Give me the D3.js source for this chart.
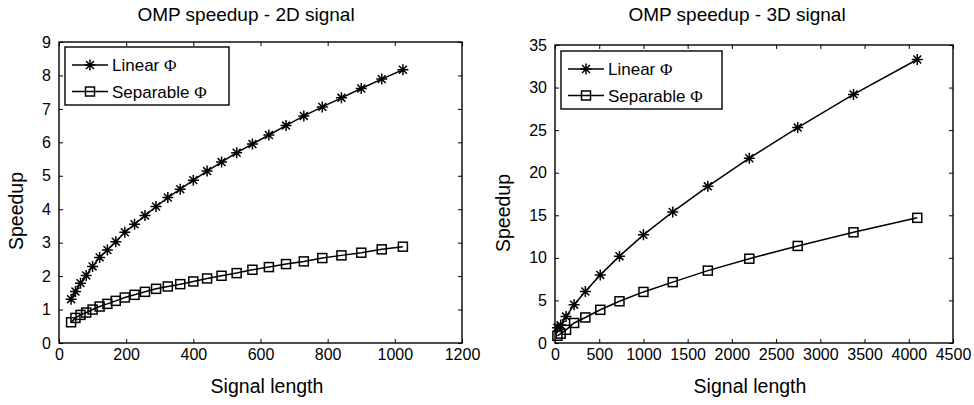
<!DOCTYPE html>
<html>
<head>
<meta charset="utf-8">
<script src="https://cdn.jsdelivr.net/npm/d3@7"></script>
<style>
  body { margin: 0; background: #fff; }
  svg { display: block; font-family: "Liberation Sans", Arial, sans-serif; }
  .tick line { stroke: #000; stroke-width: 1; }
  .tick text { font-size: 16px; fill: #000; }
  .frame { fill: none; stroke: #000; stroke-width: 1.4; }
  .curve { fill: none; stroke: #000; stroke-width: 1.5; }
  .mark { fill: none; stroke: #000; stroke-width: 1.5; }
</style>
</head>
<body>
<svg id="chart" width="974" height="405"></svg>
<script>
// series names
const seriesNames = ['Linear', 'Separable']

// 2D signal: lengths n^2, n = 6..32
const len2D = [36, 49, 64, 81, 100, 121, 144, 169, 196, 225, 256, 289, 324, 361, 400,
  441, 484, 529, 576, 625, 676, 729, 784, 841, 900, 961, 1024]
const linear2D = [1.31, 1.54, 1.79, 2.02, 2.29, 2.56, 2.78, 3.03, 3.31, 3.55, 3.81, 4.08, 4.35, 4.60, 4.87,
  5.14, 5.41, 5.69, 5.95, 6.22, 6.50, 6.79, 7.06, 7.33, 7.61, 7.89, 8.17]
const separable2D = [0.62, 0.75, 0.84, 0.91, 1.00, 1.09, 1.17, 1.26, 1.36, 1.44, 1.53, 1.62, 1.69, 1.76, 1.84,
  1.93, 2.01, 2.09, 2.19, 2.27, 2.36, 2.44, 2.54, 2.62, 2.70, 2.80, 2.88]

// 3D signal: lengths n^3, n = 3..16
const len3D = [27, 64, 125, 216, 343, 512, 729, 1000, 1331, 1728, 2197, 2744, 3375, 4096]
const linear3D = [1.8, 2.1, 3.1, 4.5, 6.05, 8.0, 10.2, 12.7, 15.4, 18.4, 21.7, 25.3, 29.2, 33.3]
const separable3D = [0.85, 1.1, 1.55, 2.35, 3.0, 3.9, 4.9, 6.0, 7.15, 8.5, 9.9, 11.4, 13.0, 14.7]

// tick labels
const xTicks2D = [0, 200, 400, 600, 800, 1000, 1200]
const yTicks2D = [0, 1, 2, 3, 4, 5, 6, 7, 8, 9]
const xTicks3D = [0, 500, 1000, 1500, 2000, 2500, 3000, 3500, 4000, 4500]
const yTicks3D = [0, 5, 10, 15, 20, 25, 30, 35]

const svg = d3.select('#chart')

// marker painters
const drawStar = (g, r) => {
  const d = r * 0.72
  g.append('path').attr('class', 'mark')
    .attr('d', `M${-r},0H${r}M0,${-r}V${r}M${-d},${-d}L${d},${d}M${-d},${d}L${d},${-d}`)
}
const drawSquare = (g, r) => {
  g.append('rect').attr('class', 'mark')
    .attr('x', -r).attr('y', -r).attr('width', 2 * r).attr('height', 2 * r)
}
const painters = [g => drawStar(g, 5.5), g => drawSquare(g, 4.5)]

const makePanel = function(opts) {
  const { left, right, top, bottom, xDomain, yDomain, xTicks, yTicks, xs, series, title, legend } = opts

  const x = d3.scaleLinear().domain(xDomain).range([left, right])
  const y = d3.scaleLinear().domain(yDomain).range([bottom, top])
  const fmt = d3.format('d')

  const g = svg.append('g')

  // axes: inward ticks on all four sides
  g.append('g').attr('transform', `translate(0,${bottom})`)
    .call(d3.axisBottom(x).tickValues(xTicks).tickFormat(fmt).tickSize(-4).tickPadding(6).tickSizeOuter(0))
  g.append('g').attr('transform', `translate(0,${top})`)
    .call(d3.axisTop(x).tickValues(xTicks).tickSize(-4).tickFormat('').tickSizeOuter(0))
  g.append('g').attr('transform', `translate(${left},0)`)
    .call(d3.axisLeft(y).tickValues(yTicks).tickFormat(fmt).tickSize(-4).tickPadding(8).tickSizeOuter(0))
  g.append('g').attr('transform', `translate(${right},0)`)
    .call(d3.axisRight(y).tickValues(yTicks).tickSize(-4).tickFormat('').tickSizeOuter(0))
  g.selectAll('.domain').remove()
  g.selectAll('.tick text').attr('font-family', null).attr('font-size', null)

  g.append('rect').attr('class', 'frame')
    .attr('x', left).attr('y', top)
    .attr('width', right - left).attr('height', bottom - top)

  // curves + markers
  series.forEach((vals, i) => {
    const pts = xs.map((v, j) => [v, vals[j]])
    g.append('path').attr('class', 'curve')
      .attr('d', d3.line().x(d => x(d[0])).y(d => y(d[1]))(pts))
    g.selectAll(null).data(pts).join('g')
      .attr('transform', d => `translate(${x(d[0])},${y(d[1])})`)
      .each(function() { painters[i](d3.select(this)) })
  })

  // titles
  g.append('text').attr('x', title.x).attr('y', 21)
    .attr('text-anchor', 'middle').attr('font-size', 19).text(title.text)
  g.append('text').attr('x', title.xl).attr('y', 393)
    .attr('text-anchor', 'middle').attr('font-size', 19.5).text('Signal length')
  g.append('text').attr('transform', `translate(${title.yl},${title.ylc}) rotate(-90)`)
    .attr('text-anchor', 'middle').attr('font-size', 19.5).text('Speedup')

  // legend
  const lg = g.append('g').attr('transform', `translate(${legend.x},${legend.y})`)
  lg.append('rect').attr('class', 'frame').attr('width', legend.w).attr('height', legend.h)
  seriesNames.forEach((name, i) => {
    const cy = 18 + i * 26.5
    lg.append('line').attr('class', 'curve')
      .attr('x1', 7).attr('x2', 43).attr('y1', cy).attr('y2', cy)
    const m = lg.append('g').attr('transform', `translate(25,${cy})`)
    painters[i](m)
    const t = lg.append('text').attr('x', 47).attr('y', cy).attr('dy', '0.36em')
      .attr('font-size', 17).text(name + ' ')
    t.append('tspan').attr('font-family', '"Liberation Serif", serif').text('\u03A6')
  })
}

makePanel({
  left: 59, right: 462, top: 42, bottom: 343,
  xDomain: [0, 1200], yDomain: [0, 9], xTicks: xTicks2D, yTicks: yTicks2D,
  xs: len2D, series: [linear2D, separable2D],
  title: { text: 'OMP speedup - 2D signal', x: 246, xl: 267, yl: 23, ylc: 211 },
  legend: { x: 65, y: 47, w: 164, h: 58 }
})

makePanel({
  left: 555, right: 953, top: 45, bottom: 343,
  xDomain: [0, 4500], yDomain: [0, 35], xTicks: xTicks3D, yTicks: yTicks3D,
  xs: len3D, series: [linear3D, separable3D],
  title: { text: 'OMP speedup - 3D signal', x: 737, xl: 750, yl: 510, ylc: 213 },
  legend: { x: 561, y: 51, w: 161, h: 58 }
})
</script>
</body>
</html>
